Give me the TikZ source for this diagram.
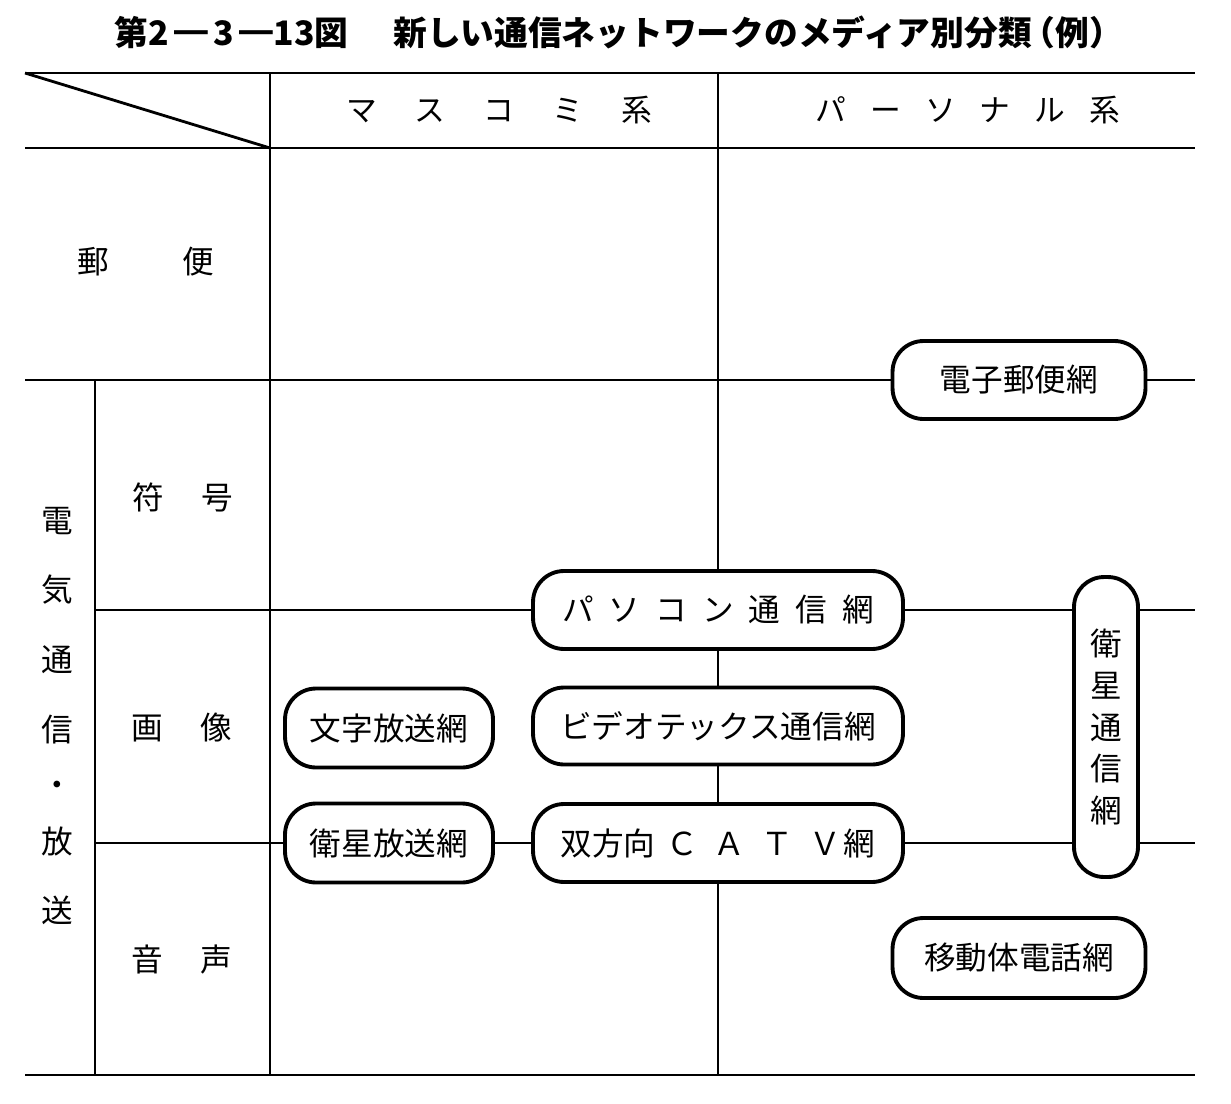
\documentclass[tikz,border=0pt]{standalone}
\usepackage{fontspec}
\setmainfont{Noto Sans CJK JP}
\newcommand\bodyfont{\fontsize{18}{20}\selectfont}
\newcommand\headfont{\fontsize{17.5}{19}\selectfont}
\newcommand\ttlfont{\fontsize{19.2}{22}\selectfont\bfseries}
\begin{document}
\begin{tikzpicture}[x=0.02cm,y=-0.02cm,
  grid/.style={line width=1.6pt},
  netbox/.style={draw,line width=2.2pt,rounded corners=0.62cm,fill=white,inner sep=0pt,font=\bodyfont},
  lbl/.style={inner sep=0pt,font=\bodyfont},
  hdr/.style={inner sep=0pt,font=\headfont}]
\useasboundingbox (0,0) rectangle (1231,1103);
\fill[white] (0,0) rectangle (1231,1103);

% title
\node[anchor=west,inner sep=0pt,font=\ttlfont] (title) at (114,32) {第2\,━\,3\,━13図\hspace{0.9cm}新しい通信ネットワークのメディア別分類\kern-0.3em（例）};

% grid coordinates
\coordinate (tl) at (25,73);
\coordinate (tr) at (1195,73);
\coordinate (hl) at (25,148);
\coordinate (hr) at (1195,148);
\coordinate (dg) at (270,148);
\coordinate (pl) at (25,380);
\coordinate (pr) at (1195,380);
\coordinate (al) at (95,610);
\coordinate (ar) at (1195,610);
\coordinate (bl) at (95,843);
\coordinate (br) at (1195,843);
\coordinate (fl) at (25,1075);
\coordinate (fr) at (1195,1075);
\coordinate (c1t) at (270,73);
\coordinate (c1b) at (270,1075);
\coordinate (c2t) at (718,73);
\coordinate (c2b) at (718,1075);
\coordinate (c0t) at (95,380);
\coordinate (c0b) at (95,1075);

% network boxes
\node[netbox,minimum width=5.06cm,minimum height=1.56cm] (denshi) at (1019,380) {電子郵便網};
\node[netbox,minimum width=7.4cm,minimum height=1.56cm] (pasokon) at (718,610) {パ\hspace{0.3cm}ソ\hspace{0.3cm}コ\hspace{0.3cm}ン\hspace{0.3cm}通\hspace{0.3cm}信\hspace{0.3cm}網};
\node[netbox,minimum width=7.4cm,minimum height=1.54cm] (video) at (718,726) {ビデオテックス通信網};
\node[netbox,minimum width=7.4cm,minimum height=1.56cm] (catv) at (718,843) {双方向\hspace{0.22cm}Ｃ\hspace{0.32cm}Ａ\hspace{0.32cm}Ｔ\hspace{0.32cm}Ｖ\hspace{0.06cm}網};
\node[netbox,minimum width=4.16cm,minimum height=1.58cm] (moji) at (389,728) {文字放送網};
\node[netbox,minimum width=4.16cm,minimum height=1.58cm] (eiseiho) at (389,843) {衛星放送網};
\node[netbox,minimum width=5.06cm,minimum height=1.6cm] (idou) at (1019,958) {移動体電話網};
\node[netbox,minimum width=1.28cm,minimum height=6cm,rounded corners=0.6cm,align=center,font=\fontsize{18}{23.8}\selectfont] (eiseitsu) at (1106,727) {衛\\星\\通\\信\\網};

% grid lines
\draw[grid] (tl) -- (tr);
\draw[grid] (tl) -- (dg);
\draw[grid] (hl) -- (hr);
\draw[grid] (pl) -- (denshi) -- (pr);
\draw[grid] (al) -- (pasokon) -- (eiseitsu.west |- pasokon);
\draw[grid] (eiseitsu.east |- pasokon) -- (ar);
\draw[grid] (bl) -- (eiseiho) -- (catv) -- (eiseitsu.west |- catv);
\draw[grid] (eiseitsu.east |- catv) -- (br);
\draw[grid] (fl) -- (fr);
\draw[grid] (c1t) -- (c1b);
\draw[grid] (c2t) -- (pasokon) -- (video) -- (catv) -- (c2b);
\draw[grid] (c0t) -- (c0b);

% headers
\node[hdr] (masu) at (499,110) {マ\hspace{0.76cm}ス\hspace{0.76cm}コ\hspace{0.76cm}ミ\hspace{0.76cm}系};
\node[hdr] (pers) at (968,110) {パ\hspace{0.48cm}ー\hspace{0.48cm}ソ\hspace{0.48cm}ナ\hspace{0.48cm}ル\hspace{0.48cm}系};

% row labels
\node[lbl] (yubin) at (146,262) {郵\hspace{1.46cm}便};
\node[lbl] (fugo) at (183,497) {符\hspace{0.76cm}号};
\node[lbl] (gazo) at (182,728) {画\hspace{0.76cm}像};
\node[lbl] (onsei) at (182,960) {音\hspace{0.76cm}声};
\node[lbl,align=center,font=\fontsize{18}{39.7}\selectfont] (denki) at (57,716) {電\\気\\通\\信\\[-8.5pt]・\\[-7.4pt]放\\送};
\end{tikzpicture}
\end{document}
